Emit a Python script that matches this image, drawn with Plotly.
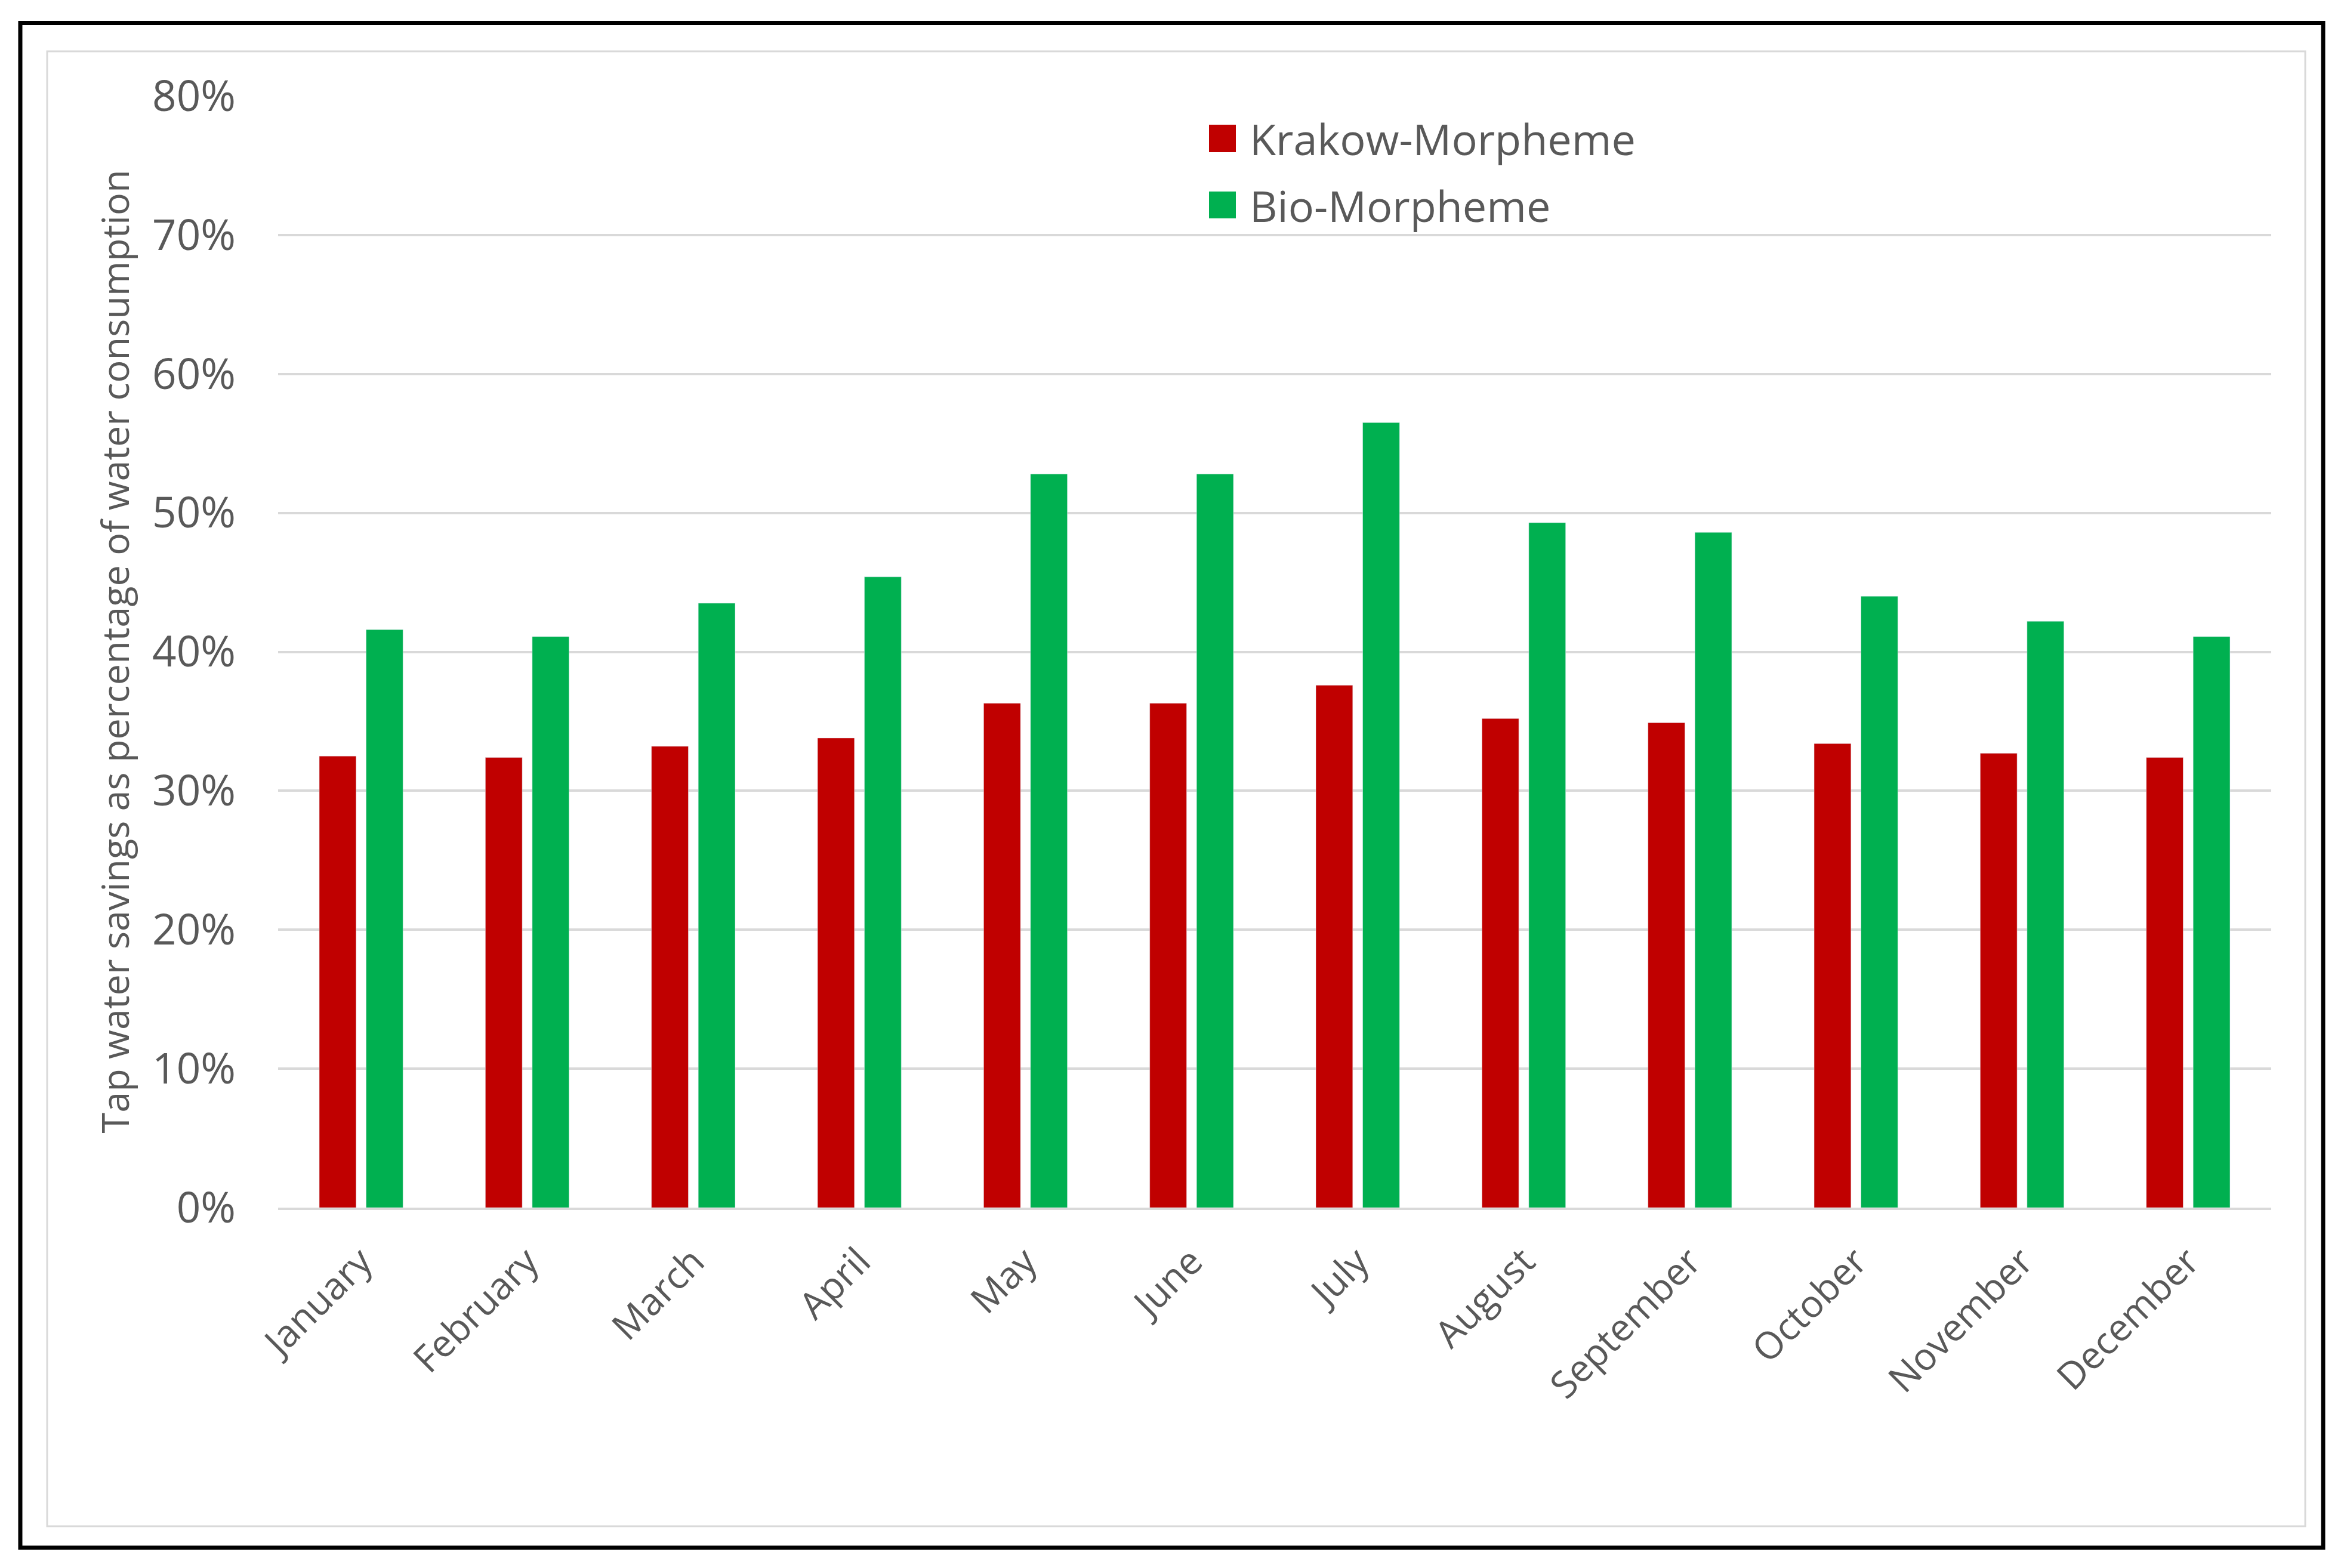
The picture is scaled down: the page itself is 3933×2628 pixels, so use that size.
import plotly.graph_objects as go

months = ["January", "February", "March", "April", "May", "June", "July",
          "August", "September", "October", "November", "December"]
krakow = [32.5, 32.4, 33.2, 33.8, 36.3, 36.3, 37.6, 35.2, 34.9, 33.4, 32.7, 32.4]
bio = [41.6, 41.1, 43.5, 45.4, 52.8, 52.8, 56.5, 49.3, 48.6, 44.0, 42.2, 41.1]
series_names = ["Krakow-Morpheme", "Bio-Morpheme"]
y_ticks = [0, 10, 20, 30, 40, 50, 60, 70, 80]
y_tick_labels = ["0%", "10%", "20%", "30%", "40%", "50%", "60%", "70%", "80%"]
y_title = "Tap water savings as percentage of water consumption"

RED = "#C00000"
GREEN = "#00B050"
TXT = "#595959"
GRID = "#D9D9D9"
FONT = "Open Sans"

W, H = 3933, 2628
OFF = 8  # page body margin shift
# plot area in reference pixel coords
PX0, PX1, PY0, PY1 = 466, 3806, 161, 2024
ML = PX0 - OFF
MT = PY0 - OFF
MR = W - (PX1 - OFF)
MB = H - (PY1 - OFF)
PW = PX1 - PX0
PH = PY1 - PY0


def px(x):
    return (x - PX0) / PW


def py(y):
    return (PY1 - y) / PH


fig = go.Figure()
fig.add_trace(go.Bar(x=months, y=krakow, name=series_names[0], marker_color=RED,
                     width=0.222, offset=-0.252, showlegend=False))
fig.add_trace(go.Bar(x=months, y=bio, name=series_names[1], marker_color=GREEN,
                     width=0.222, offset=0.030, showlegend=False))

shapes = [
    dict(type="rect", xref="paper", yref="paper", x0=px(34), x1=px(3893),
         y0=py(38.5), y1=py(2594), line=dict(color="black", width=7)),
    dict(type="rect", xref="paper", yref="paper", x0=px(79), x1=px(3863),
         y0=py(86), y1=py(2558), line=dict(color=GRID, width=3)),
    dict(type="rect", xref="paper", yref="paper", x0=px(2026), x1=px(2071),
         y0=py(255), y1=py(209), fillcolor=RED, line=dict(width=0)),
    dict(type="rect", xref="paper", yref="paper", x0=px(2026), x1=px(2071),
         y0=py(366), y1=py(321), fillcolor=GREEN, line=dict(width=0)),
]

annotations = [
    dict(text=series_names[0], xref="paper", yref="paper", x=px(2092), y=py(232),
         xanchor="left", yanchor="middle", showarrow=False,
         font=dict(family=FONT, size=72, color=TXT)),
    dict(text=series_names[1], xref="paper", yref="paper", x=px(2092), y=py(344),
         xanchor="left", yanchor="middle", showarrow=False,
         font=dict(family=FONT, size=72, color=TXT)),
    dict(text=y_title, xref="paper", yref="paper", x=px(191), y=0.5,
         xanchor="center", yanchor="middle", textangle=-90, showarrow=False,
         font=dict(family=FONT, size=63, color=TXT)),
]

fig.update_layout(
    width=W, height=H,
    margin=dict(l=ML, r=MR, t=MT, b=MB, autoexpand=False),
    paper_bgcolor="white", plot_bgcolor="white",
    barmode="group",
    font=dict(family=FONT, color=TXT),
    shapes=shapes,
    annotations=annotations,
    showlegend=False,
)
fig.update_yaxes(range=[0, 80], tickmode="array", tickvals=y_ticks, ticktext=y_tick_labels,
                 showgrid=True, gridcolor=GRID, gridwidth=4, zeroline=False,
                 showline=False, ticks="", ticklabelstandoff=70,
                 tickfont=dict(family=FONT, size=71, color=TXT), automargin=False)
fig.update_xaxes(showline=True, linecolor=GRID, linewidth=4, ticks="",
                 tickangle=-45, ticklabelstandoff=24,
                 tickfont=dict(family=FONT, size=63, color=TXT), automargin=False)

fig.write_html("out.html")
